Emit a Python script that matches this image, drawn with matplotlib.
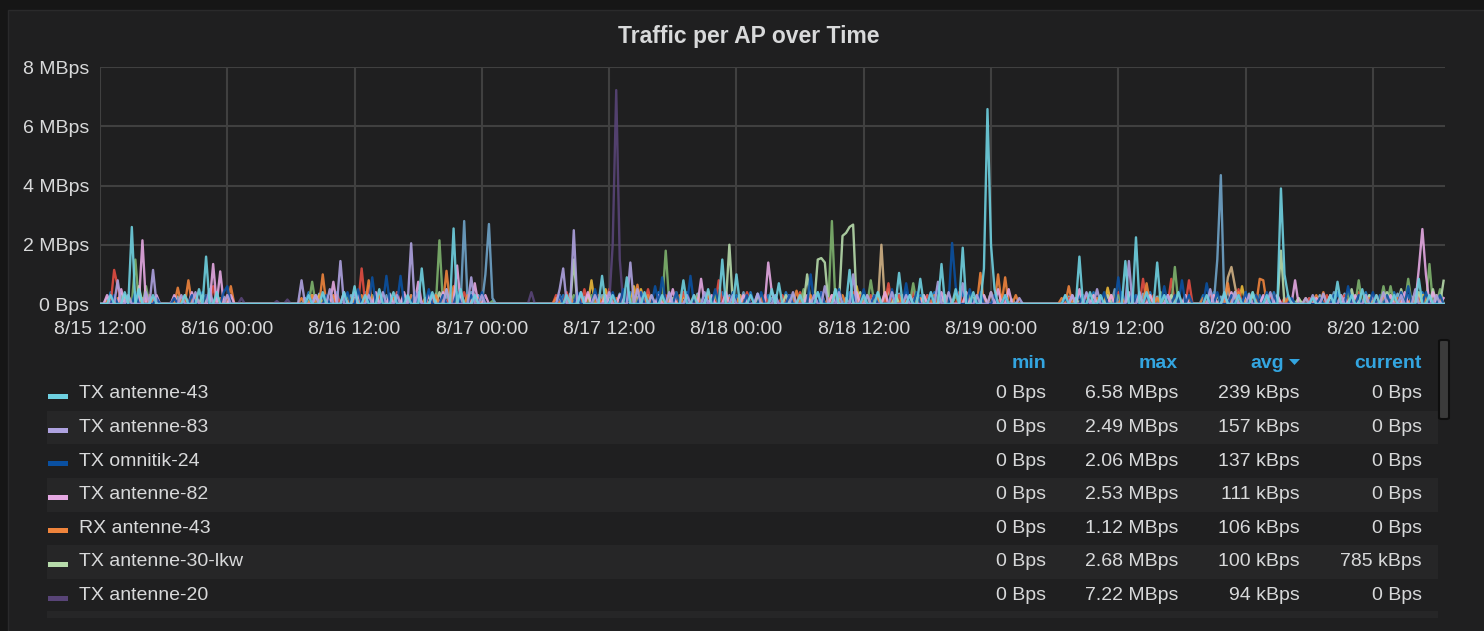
import numpy as np
import matplotlib
matplotlib.use("Agg")
import matplotlib.pyplot as plt
from matplotlib.patches import Rectangle, FancyBboxPatch, Polygon

plt.rcParams["font.family"] = ["Liberation Sans", "DejaVu Sans"]

W, H = 1484, 631
STEP_H = 1 / 3          # one sample every 20 minutes
SPAN_H = 126.8          # 8/15 12:00 -> 8/20 ~18:50

TICK_HOURS = [0, 12, 24, 36, 48, 60, 72, 84, 96, 108, 120]
TICK_LABELS = ["8/15 12:00", "8/16 00:00", "8/16 12:00", "8/17 00:00",
               "8/17 12:00", "8/18 00:00", "8/18 12:00", "8/19 00:00",
               "8/19 12:00", "8/20 00:00", "8/20 12:00"]
Y_TICKS = [0, 2, 4, 6, 8]
Y_LABELS = ["0 Bps", "2 MBps", "4 MBps", "6 MBps", "8 MBps"]

# (hours since 8/15 12:00, MBps) - samples not listed are 0
TX_ANT43 = [(1.0, .3), (2.3, .4), (3.0, 2.6), (3.7, .5), (5.0, .3), (8.0, .3), (9.3, .5),
            (9.9, 1.6), (11.0, .4), (19.7, .3), (21.0, .4), (23.0, .4), (23.85, .6),
            (25.0, .3), (26.3, .5), (27.7, .4), (29.0, .3), (30.3, 1.2), (31.5, .4),
            (33.2, 2.55), (34.0, .5), (35.3, .3), (44.0, .3), (45.5, .4), (47.2, .95),
            (48.3, .3), (49.7, .9), (51.3, .4), (53.0, .3), (54.9, .8), (56.0, .3),
            (57.3, .5), (58.8, 1.5), (60.0, 1.0), (61.3, .3), (63.3, .5), (64.1, .7),
            (66.0, .3), (67.7, .4), (69.3, .5), (70.5, 1.15), (72.0, .3), (73.3, .4),
            (75.2, 1.05), (76.3, .3), (77.5, .85), (78.3, .4), (79.5, 1.35), (80.5, .5),
            (81.2, 1.9), (82.3, .4), (83.4, 1.2), (83.7, 6.58), (84.0, 2.0), (84.4, .5),
            (85.3, .3), (91.0, .3), (92.2, 1.6), (93.3, .4), (94.3, .3), (96.8, 1.45),
            (97.8, 2.25), (98.7, .4), (99.55, 1.4), (100.3, .3), (101.7, .4), (104.3, .3),
            (106.0, .4), (107.3, .3), (108.7, .4), (110.0, .3), (111.4, 3.9), (111.7, 1.0),
            (112.0, .3), (114.3, .2), (116.0, .3), (116.7, .75), (118.0, .3), (119.0, .5),
            (120.3, .3), (122.0, .3), (124.2, .85), (125.3, .3)]

TX_ANT83 = [(1.6, .8), (2.7, .3), (4.3, .4), (4.9, 1.15), (7.7, .3), (9.0, .4), (10.3, .5),
            (12.0, .3), (19.1, .8), (20.3, .3), (21.7, .5), (22.8, 1.45), (24.0, .4),
            (25.3, .3), (26.7, .4), (28.0, .3), (29.2, 2.05), (30.0, .4), (31.3, .3),
            (32.8, .5), (34.9, .9), (36.0, .3), (43.3, .5), (43.8, 1.2), (44.5, 2.49),
            (45.3, .4), (46.7, .3), (48.0, .4), (50.15, 1.4), (50.8, .5), (52.0, .3),
            (53.7, .4), (55.3, .3), (57.0, .4), (59.7, .3), (61.9, .35), (63.7, .3),
            (65.3, .4), (67.3, .3), (68.35, .6), (69.7, .4), (70.9, 1.0), (72.3, .3),
            (74.7, .4), (76.0, .3), (78.9, .75), (80.0, .4), (81.4, .7), (82.7, .3),
            (84.0, .4), (86.5, .2), (91.7, .3), (93.1, .4), (94.0, .5), (96.9, 1.45),
            (98.0, .4), (100.7, .3), (104.8, .5), (106.0, .3), (107.0, .4), (108.3, .3),
            (110.3, .4), (113.7, .2), (114.25, .3), (115.2, .35), (117.0, .3), (119.3, .3),
            (121.0, .4), (122.7, .3), (124.0, .5), (126.0, .3)]

TX_OMNI24 = [(1.3, .3), (3.3, .4), (5.3, .2), (7.0, .2), (8.7, .3), (10.0, .3), (11.7, .4),
             (12.07, .6), (19.7, .3), (21.3, .3), (23.3, .4), (24.3, .5), (25.8, .9),
             (27.05, .95), (28.3, .95), (29.6, .4), (30.9, .5), (32.3, .3), (33.6, .4),
             (35.0, .3), (36.0, .4), (43.3, .3), (45.0, .4), (46.7, .5), (48.3, .4),
             (49.3, .5), (51.0, .4), (52.3, .6), (53.0, .9), (54.3, .4), (55.8, .95),
             (57.0, .3), (58.0, .5), (59.7, .4), (61.0, .3), (62.3, .4), (63.7, .3),
             (65.0, .3), (67.1, 1.0), (68.0, .4), (69.6, .5), (71.0, .3), (72.0, .5),
             (73.0, .3), (74.7, .5), (75.9, .7), (77.0, .4), (78.3, .4), (79.0, .6),
             (80.2, 2.06), (80.8, .6), (82.0, .5), (83.0, .4), (84.3, .3), (85.3, .3),
             (91.0, .2), (92.7, .3), (94.7, .4), (95.9, .9), (97.3, .4), (98.5, .3),
             (100.2, .6), (101.3, .3), (102.1, .8), (102.8, .3), (104.45, .7), (105.3, .4),
             (106.5, .3), (107.3, .3), (108.0, .4), (109.0, .3), (110.0, .4), (110.7, .3),
             (112.3, .2), (115.0, .2), (116.3, .3), (117.65, .6), (118.7, .3), (120.0, .4),
             (121.3, .3), (122.7, .4), (123.5, .6), (125.0, .4), (126.3, .3)]

TX_ANT82 = [(0.7, .3), (2.0, .5), (4.05, 2.15), (5.3, .3), (7.0, .3), (8.7, .4), (10.56, 1.35),
            (11.2, 1.1), (12.3, .3), (20.3, .3), (21.9, .75), (23.0, .4), (24.3, .3),
            (26.0, .4), (27.3, .3), (28.7, .4), (29.9, .75), (31.0, .3), (32.3, .4),
            (33.8, 1.3), (35.5, .7), (36.3, .3), (43.5, .3), (45.0, .3), (46.0, .4),
            (47.7, .3), (49.0, .3), (51.0, .4), (52.7, .3), (54.0, .5), (56.6, .85),
            (57.7, .3), (59.0, .4), (60.7, .3), (62.9, 1.4), (63.5, .4), (65.0, .3),
            (66.7, .3), (68.0, .4), (69.0, .3), (71.3, .4), (73.0, .3), (74.0, .4),
            (76.3, .3), (77.7, .3), (79.3, .4), (81.7, .4), (83.3, .3), (84.7, .5),
            (85.8, .5), (91.7, .3), (92.4, .5), (93.7, .3), (95.3, .3), (97.0, .4),
            (99.0, .3), (100.7, .3), (102.3, .3), (105.0, .3), (106.7, .4), (108.0, .3),
            (109.7, .3), (111.0, .3), (112.75, .8), (114.7, .2), (116.0, .3), (117.3, .2),
            (118.3, .3), (120.0, .3), (121.7, .3), (123.0, .4), (124.4, 1.2), (124.7, 2.53),
            (125.0, 1.0), (125.7, .4), (126.5, .2)]

RX_ANT43 = [(0.5, .1), (1.7, .2), (2.7, .2), (4.3, .3), (5.0, .2), (7.26, .55), (8.3, .8),
            (9.0, .3), (10.0, .3), (11.3, .2), (12.44, .6), (19.0, .2), (20.0, .3),
            (20.9, 1.0), (22.0, .3), (23.7, .2), (24.7, .3), (25.45, .8), (26.3, .3),
            (27.7, .2), (29.3, .3), (30.7, .2), (31.7, .3), (32.7, 1.12), (33.5, .6),
            (34.7, .3), (35.7, .2), (43.0, .2), (44.3, .2), (45.3, .3), (47.0, .2),
            (48.7, .2), (50.7, .65), (51.7, .3), (53.3, .2), (54.7, .3), (56.3, .2),
            (57.3, .3), (59.3, .2), (60.3, .3), (62.3, .2), (63.7, .2), (65.8, .45),
            (67.0, .3), (68.7, .2), (70.0, .3), (71.7, .3), (73.3, .2), (74.0, .4),
            (75.7, .3), (77.3, .2), (78.7, .3), (80.0, .3), (81.7, .4), (83.1, 1.05),
            (84.0, .4), (84.8, 1.0), (85.5, .9), (86.2, .3), (90.7, .2), (91.4, .6),
            (92.7, .3), (94.0, .2), (95.5, .3), (96.3, .2), (97.3, .3), (98.8, .7),
            (99.7, .2), (100.7, .3), (101.7, .2), (102.5, .2), (104.0, .2), (105.0, .3),
            (106.3, .7), (107.3, .4), (108.3, .3), (109.35, .85), (109.8, .8), (110.7, .3),
            (112.0, .2), (113.7, .2), (114.7, .3), (115.5, .4), (117.0, .3), (118.3, .2),
            (119.7, .2), (121.0, .3), (122.3, .2), (123.7, .2), (125.0, .2), (126.3, .2)]

TX_ANT30 = [(2.3, .3), (3.7, .6), (9.7, .3), (20.0, .3), (24.0, .2), (28.7, .3), (32.0, .4),
            (35.0, .2), (44.6, 1.5), (46.0, .3), (48.0, .2), (51.0, .3), (54.0, .2),
            (57.0, .3), (59.2, 2.0), (60.3, .3), (62.0, .2), (64.7, .3), (66.55, 1.0),
            (67.7, 1.5), (68.0, 1.55), (68.3, 1.4), (69.3, .5), (70.0, 2.3), (70.3, 2.4),
            (70.7, 2.6), (71.0, 2.68), (71.7, .4), (73.0, .3), (75.0, .3), (77.0, .3),
            (79.7, .3), (82.3, .2), (84.3, .3), (92.0, .2), (95.0, .3), (98.0, .3),
            (101.0, .3), (105.3, .3), (107.0, .4), (108.6, .3), (111.4, 1.8), (113.0, .2),
            (116.0, .3), (118.0, .5), (119.7, .3), (121.3, .4), (122.7, .5), (124.3, .4),
            (125.8, .5), (126.7, .785)]

TX_ANT20 = [(1.0, .1), (6.7, .05), (13.5, .2), (16.6, .1), (17.6, .15), (40.8, .4),
            (48.4, 2.0), (48.8, 7.22), (49.0, 1.5)]

# series further down the (scrolling) legend
RED_SERIES = [(1.23, 1.15), (1.7, .6), (2.7, .3), (4.7, .3), (7.7, .2), (9.0, .3), (10.7, .6),
              (12.0, .3), (20.3, .2), (22.3, .3), (24.6, 1.2), (25.2, .6), (26.7, .3),
              (28.0, .4), (30.0, .3), (31.3, .2), (33.0, .3), (34.3, .4), (43.0, .3),
              (44.0, .4), (45.7, .5), (47.0, .3), (48.0, .5), (49.3, .4), (50.3, .3),
              (51.7, .5), (53.3, .3), (55.0, .4), (56.0, .3), (57.3, .4), (58.3, .8),
              (59.7, .3), (61.0, .4), (62.7, .3), (64.3, .3), (66.0, .4), (67.3, .3),
              (69.0, .3), (71.0, .4), (72.7, .3), (74.3, .7), (75.3, .3), (76.7, .4),
              (78.0, .3), (79.7, .3), (81.0, .4), (82.7, .3), (85.0, .3), (91.3, .2),
              (93.0, .3), (95.0, .3), (96.0, .4), (98.2, .85), (99.3, .3), (101.1, .85),
              (101.8, .3), (102.8, .8), (104.7, .3), (106.0, .3), (107.3, .5), (109.0, .3),
              (110.3, .3), (111.7, .2), (114.0, .2), (115.7, .3), (117.3, .3), (118.7, .4),
              (120.3, .3), (121.7, .3), (123.0, .3), (124.3, .3), (126.0, .3)]

GREEN_SERIES = [(2.0, .3), (3.5, 1.5), (4.3, .6), (8.0, .3), (11.0, .3), (20.0, .75),
                (21.3, .3), (23.3, .3), (25.7, .3), (27.3, .3), (29.7, .3), (31.0, .3),
                (32.1, 2.15), (32.7, .5), (34.7, .3), (37.0, .1), (44.7, .3), (46.3, .3),
                (48.0, .2), (50.3, .3), (52.0, .3), (53.5, 1.8), (54.3, .4), (56.3, .3),
                (58.0, .3), (60.7, .3), (62.3, .3), (63.7, .2), (65.3, .3), (66.3, .5),
                (68.9, 2.8), (69.7, .5), (72.5, .8), (73.3, .3), (75.0, .3), (76.8, .7),
                (77.7, .3), (79.0, .3), (80.7, .3), (82.0, .3), (83.3, .3), (91.7, .2),
                (93.7, .3), (96.0, .3), (97.0, .3), (99.0, .3), (100.0, .4), (101.4, 1.25),
                (102.3, .3), (105.0, .2), (106.0, .3), (107.0, .3), (108.6, .4), (110.0, .3),
                (113.0, .2), (115.0, .2), (116.3, .3), (117.7, .4), (118.5, .8), (119.3, .3),
                (120.85, .6), (121.8, .6), (122.7, .3), (123.2, .85), (124.0, .3),
                (125.5, 1.35), (126.2, .5)]

STEEL_SERIES = [(27.0, .3), (30.0, .3), (33.5, .4), (34.2, 2.8), (34.9, .4), (35.5, .3),
                (36.3, 1.0), (36.6, 2.7), (37.0, .2), (60.5, .4), (95.7, .5), (98.0, .3),
                (105.3, 1.5), (105.8, 4.35), (106.2, .5), (110.7, .3), (116.3, .4)]

YELLOW_SERIES = [(4.0, .2), (20.5, .3), (28.0, .2), (46.3, .8), (47.7, .5), (50.4, .6),
                 (51.0, .5), (55.0, .3), (61.0, .3), (71.5, .6), (72.3, .3), (77.0, .3),
                 (95.1, .55), (95.8, .3), (100.5, .3), (107.75, .6), (108.3, .3), (111.0, .2),
                 (118.0, .2), (124.7, .3), (125.1, .3), (126.0, .3)]

TAN_SERIES = [(58.0, .3), (65.0, .2), (73.8, 2.0), (74.2, .5), (106.4, .9), (106.8, 1.25),
              (107.0, .6)]

BLUE_SERIES = [(1.0, .4), (2.3, .3), (3.3, .3), (8.0, .3), (9.7, .4), (11.0, .3), (19.7, .4),
               (21.0, .3), (22.3, .4), (24.0, .3), (25.0, .4), (26.7, .3), (28.0, .4),
               (29.3, .3), (31.0, .4), (33.0, .3), (35.0, .4), (43.7, .3), (45.0, .3),
               (46.7, .4), (48.0, .3), (50.0, .4), (51.3, .3), (52.7, .4), (54.3, .3),
               (55.3, .4), (57.0, .3), (58.7, .4), (60.0, .3), (61.3, .4), (63.0, .3),
               (64.7, .4), (66.0, .3), (67.7, .4), (69.3, .3), (70.7, .4), (72.0, .3),
               (73.3, .4), (74.7, .3), (76.0, .4), (77.3, .3), (78.7, .4), (80.0, .3),
               (81.3, .4), (82.7, .3), (84.0, .4), (85.3, .2), (91.0, .3), (92.3, .3),
               (93.7, .4), (95.0, .3), (96.3, .4), (97.7, .3), (99.0, .4), (100.3, .3),
               (101.7, .4), (102.7, .3), (104.0, .3), (105.0, .4), (106.7, .3), (108.0, .4),
               (109.3, .3), (110.7, .4), (112.0, .3), (114.0, .2), (115.3, .3), (116.7, .4),
               (118.0, .3), (119.3, .4), (120.7, .3), (122.0, .4), (123.3, .3), (124.7, .4),
               (126.0, .3)]

LIGHTBLUE_SERIES = [(0.8, .2), (2.0, .35), (4.5, .3), (7.3, .25), (9.0, .2), (10.3, .35),
                    (11.7, .25), (19.3, .2), (20.7, .35), (22.0, .25), (23.7, .3), (25.3, .35),
                    (26.0, .2), (27.3, .35), (28.7, .25), (30.0, .2), (31.7, .35), (32.7, .3),
                    (34.0, .25), (35.7, .3), (43.3, .2), (44.3, .35), (45.7, .25), (47.3, .3),
                    (49.0, .35), (50.7, .25), (52.0, .2), (53.7, .35), (55.0, .3), (56.3, .35),
                    (57.7, .25), (59.3, .3), (60.7, .25), (62.0, .35), (63.3, .2), (65.0, .3),
                    (66.3, .35), (67.3, .25), (69.0, .3), (70.3, .2), (71.3, .35), (72.7, .25),
                    (74.0, .3), (75.3, .35), (76.7, .2), (78.0, .3), (79.3, .25), (80.7, .35),
                    (82.0, .3), (83.3, .25), (85.0, .3), (86.0, .15), (91.3, .25), (93.0, .35),
                    (94.3, .2), (95.5, .3), (97.0, .25), (98.3, .35), (99.7, .25), (101.0, .3),
                    (102.3, .2), (104.7, .3), (105.7, .25), (107.0, .2), (108.3, .35),
                    (109.7, .25), (111.0, .3), (112.3, .2), (113.7, .15), (115.0, .3),
                    (116.3, .25), (117.3, .35), (118.3, .25), (119.7, .3), (121.0, .25),
                    (122.3, .35), (123.7, .25), (125.0, .3), (126.3, .25)]

# legend table (sorted by avg, as shown)
LEGEND_NAMES = ["TX antenne-43", "TX antenne-83", "TX omnitik-24", "TX antenne-82",
                "RX antenne-43", "TX antenne-30-lkw", "TX antenne-20"]
LEGEND_COLORS = ["#6ED0E0", "#AEA2E0", "#0A50A1", "#E5A8E2", "#EF843C", "#B7DBAB", "#584477"]
MIN_TXT = ["0 Bps"] * 7
MAX_TXT = ["6.58 MBps", "2.49 MBps", "2.06 MBps", "2.53 MBps", "1.12 MBps", "2.68 MBps", "7.22 MBps"]
AVG_TXT = ["239 kBps", "157 kBps", "137 kBps", "111 kBps", "106 kBps", "100 kBps", "94 kBps"]
CUR_TXT = ["0 Bps", "0 Bps", "0 Bps", "0 Bps", "0 Bps", "785 kBps", "0 Bps"]

BG_OUT = "#161616"
BG_PANEL = "#1f1f20"
STRIPE = "#262627"
TXT = "#d8d9da"
HEAD = "#33a5e0"
GRID = "#404040"
LW = 1.7


def build(samples):
    n = int(round(SPAN_H / STEP_H)) + 1
    y = np.zeros(n)
    for t, v in samples:
        y[int(round(t / STEP_H))] = v
    return np.arange(n) * STEP_H, y


def fx(x):
    return x / W


def fy(y):
    return 1 - y / H


fig = plt.figure(figsize=(W / 100, H / 100), dpi=100)
fig.patch.set_facecolor(BG_OUT)
fig.patches.append(Rectangle((fx(8), 0), 1, fy(10), transform=fig.transFigure,
                             facecolor=BG_PANEL, edgecolor="#2a2a2b", lw=1, zorder=0))

ax = fig.add_axes([fx(100), fy(304), fx(1445) - fx(100), fy(67) - fy(304)])
ax.set_facecolor("none")
ax.set_zorder(5)

hidden = [(BLUE_SERIES, "#1F78C1"), (LIGHTBLUE_SERIES, "#82B5D8"), (YELLOW_SERIES, "#EAB839"),
          (TAN_SERIES, "#CFB084"), (RED_SERIES, "#E24D42"), (GREEN_SERIES, "#7EB26D"),
          (STEEL_SERIES, "#6FA3C8")]
for samples, col in hidden:
    x, y = build(samples)
    ax.plot(x, y, color=col, lw=LW, alpha=0.9)

shown = [TX_ANT43, TX_ANT83, TX_OMNI24, TX_ANT82, RX_ANT43, TX_ANT30, TX_ANT20]
for samples, col in list(zip(shown, LEGEND_COLORS))[::-1]:
    x, y = build(samples)
    ax.plot(x, y, color=col, lw=LW, alpha=0.9)

ax.set_xlim(0, SPAN_H)
ax.set_ylim(0, 8)
ax.set_xticks(TICK_HOURS)
ax.set_xticklabels(TICK_LABELS)
ax.set_yticks(Y_TICKS)
ax.set_yticklabels(Y_LABELS)
ax.grid(True, color=GRID, lw=1.5)
ax.set_axisbelow(True)
for s in ax.spines.values():
    s.set_visible(False)
ax.tick_params(length=0, labelsize=14, colors=TXT)
ax.tick_params(axis="x", pad=12)
ax.tick_params(axis="y", pad=8)

fig.text(fx(749), fy(36), "Traffic per AP over Time", ha="center", va="center",
         fontsize=16.5, fontweight="bold", color=TXT)

# legend table
col_right = [1046, 1178, 1300, 1422]
row_y = [394 + i * 33.6 for i in range(len(LEGEND_NAMES))]
head_y = 364
for i, yc in enumerate(row_y):
    if i % 2 == 1:
        fig.patches.append(Rectangle((fx(47), fy(yc + 16.8)), fx(1438) - fx(47), 33.6 / H,
                                     transform=fig.transFigure, facecolor=STRIPE,
                                     edgecolor="none", zorder=1))
fig.patches.append(Rectangle((fx(47), fy(618)), fx(1438) - fx(47), 7 / H,
                             transform=fig.transFigure, facecolor=STRIPE,
                             edgecolor="none", zorder=1))

for name, col, a, b, c, d, yc in zip(LEGEND_NAMES, LEGEND_COLORS, MIN_TXT, MAX_TXT,
                                     AVG_TXT, CUR_TXT, row_y):
    fig.patches.append(Rectangle((fx(48), fy(yc + 5)), fx(68) - fx(48), 5 / H,
                                 transform=fig.transFigure, facecolor=col,
                                 edgecolor="none", zorder=2))
    fig.text(fx(79), fy(yc), name, ha="left", va="center", fontsize=14, color=TXT)
    for val, xr in zip([a, b, c, d], col_right):
        fig.text(fx(xr), fy(yc), val, ha="right", va="center", fontsize=14, color=TXT)

fig.text(fx(1046), fy(head_y), "min", ha="right", va="center", fontsize=14,
         fontweight="bold", color=HEAD)
fig.text(fx(1178), fy(head_y), "max", ha="right", va="center", fontsize=14,
         fontweight="bold", color=HEAD)
fig.text(fx(1284), fy(head_y), "avg", ha="right", va="center", fontsize=14,
         fontweight="bold", color=HEAD)
fig.text(fx(1422), fy(head_y), "current", ha="right", va="center", fontsize=14,
         fontweight="bold", color=HEAD)
fig.patches.append(Polygon([(fx(1289), fy(359)), (fx(1300), fy(359)), (fx(1294.5), fy(365))],
                           closed=True, transform=fig.transFigure, facecolor=HEAD,
                           edgecolor="none", zorder=3))

# scrollbar
fig.patches.append(FancyBboxPatch((fx(1439), fy(419)), fx(10), 79 / H,
                                  boxstyle="round,pad=0,rounding_size=0.002",
                                  transform=fig.transFigure, facecolor="#3b3b3b",
                                  edgecolor="#0e0e0e", lw=1.5, zorder=3))

fig.savefig("out.png", dpi=100, facecolor=fig.get_facecolor())
